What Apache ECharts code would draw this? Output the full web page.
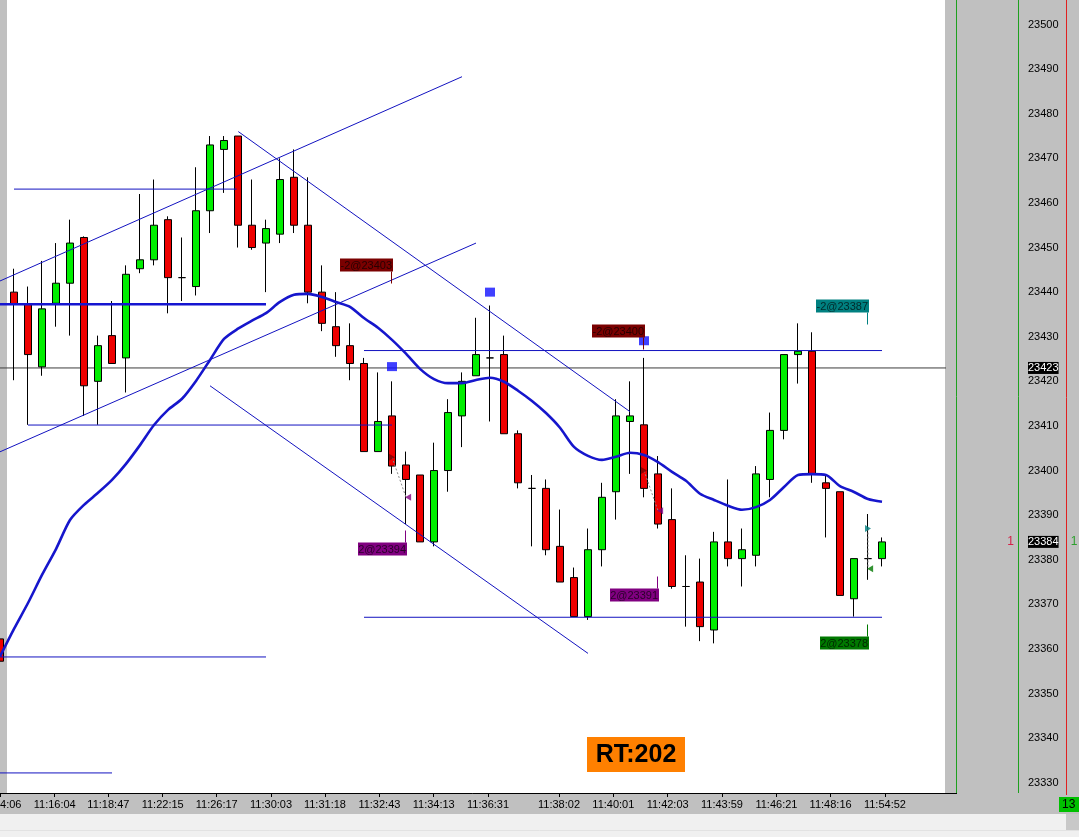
<!DOCTYPE html>
<html><head><meta charset="utf-8">
<script src="https://cdn.jsdelivr.net/npm/echarts@6/dist/echarts.min.js"></script>
<style>html,body{margin:0;padding:0;background:#c0c0c0;overflow:hidden}#c{width:1079px;height:837px}</style>
</head><body><div id="c"></div>
<script>
// ---- data ----
const opens  = [23362.25,23440.0,23437.25,23423.25,23437.5,23442.0,23452.25,23420.0,23430.25,23425.25,23445.25,23447.25,23456.25,23443.25,23441.25,23458.25,23472.0,23475.0,23455.0,23451.0,23453.0,23465.75,23455.0,23440.0,23432.25,23428.0,23424.0,23404.25,23412.25,23401.25,23399.0,23384.0,23400.0,23412.25,23421.25,23425.25,23426.0,23408.25,23396.0,23396.0,23383.0,23376.0,23367.25,23382.25,23395.25,23411.0,23410.25,23399.25,23389.0,23374.0,23375.0,23364.25,23384.0,23380.25,23381.0,23398.0,23409.0,23426.0,23426.75,23397.25,23395.25,23371.25,23380.25,23380.25];
const closes = [23357.25,23437.25,23426.0,23436.25,23442.0,23451.0,23419.0,23428.0,23424.0,23444.0,23447.25,23455.0,23443.25,23443.25,23458.25,23473.0,23474.0,23455.0,23450.0,23454.25,23465.25,23455.0,23440.0,23433.0,23428.0,23424.0,23404.25,23411.0,23401.0,23398.0,23384.0,23400.0,23413.0,23420.0,23426.0,23425.25,23408.25,23397.25,23396.0,23382.25,23375.0,23367.25,23382.25,23394.0,23412.25,23412.25,23396.0,23388.0,23374.0,23374.0,23365.0,23384.0,23380.25,23382.25,23399.25,23409.0,23426.0,23426.75,23399.25,23396.0,23372.0,23380.25,23380.25,23384.0];
const lows   = [23350.25,23420.25,23410.25,23421.25,23432.25,23430.25,23412.25,23410.25,23424.0,23417.5,23444.25,23446.0,23435.25,23438.0,23439.25,23453.25,23462.25,23450.0,23449.5,23440.0,23451.0,23453.25,23437.5,23431.25,23425.5,23420.25,23404.25,23404.25,23399.25,23388.0,23384.0,23383.0,23395.25,23405.25,23421.25,23411.0,23408.25,23396.0,23383.0,23381.0,23375.0,23367.25,23366.5,23378.5,23389.0,23399.25,23394.0,23387.0,23373.5,23365.0,23361.75,23361.25,23378.5,23374.0,23378.5,23394.0,23407.0,23419.5,23397.25,23385.0,23372.0,23367.25,23375.5,23378.5];
const highs  = [23370.25,23445.25,23441.25,23447.0,23451.0,23456.25,23452.5,23430.25,23438.0,23446.0,23462.0,23465.25,23457.0,23452.25,23468.0,23475.0,23475.0,23475.0,23465.25,23456.25,23470.0,23472.0,23465.75,23446.0,23440.0,23433.0,23425.25,23422.0,23420.0,23404.25,23399.0,23406.25,23416.0,23422.0,23434.25,23437.0,23430.25,23409.0,23399.0,23398.0,23391.25,23378.25,23387.0,23397.25,23416.0,23420.0,23425.25,23403.25,23396.0,23381.0,23380.25,23386.25,23398.0,23387.0,23401.0,23413.0,23426.0,23433.0,23431.0,23399.0,23395.25,23380.25,23390.25,23385.0];
const maValues = [23358.3,23364.5,23370.3,23376.6,23382.4,23388.9,23392.3,23395.0,23397.9,23401.5,23405.7,23410.2,23413.6,23416.1,23420.1,23424.8,23429.5,23431.8,23433.6,23435.3,23437.8,23439.4,23439.6,23438.9,23437.8,23436.7,23434.2,23432.0,23429.3,23426.2,23422.8,23420.5,23419.6,23419.6,23420.3,23420.8,23419.9,23417.9,23415.6,23412.9,23409.6,23405.3,23403.3,23402.4,23403.1,23404.0,23403.5,23401.9,23399.7,23397.7,23394.8,23393.4,23392.1,23391.2,23391.8,23393.4,23396.3,23399.0,23399.2,23399.0,23396.5,23395.2,23393.6,23393.0];
const barSlots = Array.from({length: 68}, (_, i) => String(i)); // 64 bars + right margin slots

const timeLabels   = ['11:14:06','11:16:04','11:18:47','11:22:15','11:26:17','11:30:03','11:31:18','11:32:43','11:34:13','11:36:31','11:38:02','11:40:01','11:42:03','11:43:59','11:46:21','11:48:16','11:54:52'];
const timeLabelBars = [0.03,3.91,7.74,11.62,15.48,19.36,23.21,27.10,30.98,34.86,39.93,43.81,47.69,51.57,55.46,59.33,63.21];
const priceTicks = [23330,23340,23350,23360,23370,23380,23390,23400,23410,23420,23430,23440,23450,23460,23470,23480,23490,23500];
const priceLineValue = 23423;
const lastPrice = closes[closes.length - 1];

// drawings in (bar, price)
const trendLines = [[0,23442.5,33,23488.3],[0,23404.2,34,23451.0],[17.02,23476.0,45,23413.2],[15,23419.0,42,23359.0]];
const levelLines = [[1,16.9,23463.1],[2,28,23410.2],[26,63,23426.9],[26,63,23367.1],[0,19,23358.2],[0,8,23332.2]];
const thickLevel = [0,19,23437.3];
const markerBars = [28,35,46];
const markerPrices = [23423.3,23440.0,23429.1];
const entryBars = [28,46,62], entryPrices = [23403,23400,23387];
const exitBars  = [29,47,62], exitPrices  = [23394,23391,23378];
const execTexts  = ['-2@23403','-2@23400','2@23394','2@23391','-2@23387','2@23378'];
const execBars   = [28.07,46.07,29.07,47.05,62.07,62.07];
const execPrices = [23446.0,23431.2,23382.35,23372.2,23437.0,23361.3];
const execStubDir = [1,1,-1,-1,1,-1];
const execColors = ['#7a0000','#7a0000','#800080','#800080','#008080','#007800'];
const entryColors = ['#7a0000','#7a0000','#008080'];
const exitColors = ['#800080','#800080','#007800'];

const FONT = '"Liberation Sans", Arial, sans-serif';
const chart = echarts.init(document.getElementById('c'), null, {renderer: 'canvas'});

const series = [];
series.push({
  type: 'candlestick', xAxisIndex: 0, yAxisIndex: 0, barWidth: 8, z: 3,
  data: opens.map((o, i) => [o, closes[i], lows[i], highs[i]]),
  itemStyle: {color: '#00ee00', color0: '#ee0000', borderColor: '#000', borderColor0: '#000', borderColorDoji: '#000', borderWidth: 1},
  emphasis: {disabled: true}, silent: true
});
const lineBase = {type: 'line', xAxisIndex: 1, yAxisIndex: 0, symbol: 'none', silent: true, animation: false};
trendLines.forEach(t => series.push(Object.assign({}, lineBase, {z: 4, data: [[t[0], t[1]], [t[2], t[3]]], lineStyle: {color: '#1212c0', width: 1}})));
levelLines.forEach(t => series.push(Object.assign({}, lineBase, {z: 4, data: [[t[0], t[2]], [t[1], t[2]]], lineStyle: {color: '#1212c0', width: 1}})));
series.push(Object.assign({}, lineBase, {z: 4, data: [[thickLevel[0], thickLevel[2]], [thickLevel[1], thickLevel[2]]], lineStyle: {color: '#1515d0', width: 2.6}}));
series.push(Object.assign({}, lineBase, {z: 2, clip: false, data: [[-0.5, priceLineValue], [68.3, priceLineValue]], lineStyle: {color: '#3c3c3c', width: 1}}));
series.push(Object.assign({}, lineBase, {z: 5, smooth: 0.25, data: maValues.map((v, i) => [i, v]), lineStyle: {color: '#1616cc', width: 2.6}}));
entryBars.forEach((b, i) => series.push(Object.assign({}, lineBase, {z: 5, data: [[b, entryPrices[i]], [exitBars[i], exitPrices[i]]], lineStyle: {color: '#8a8a8a', width: 1, type: [2, 2]}})));
series.push({type: 'scatter', xAxisIndex: 1, yAxisIndex: 0, z: 6, silent: true, symbol: 'triangle', symbolRotate: -90, symbolSize: [7, 6],
  data: entryBars.map((b, i) => ({value: [b, entryPrices[i]], itemStyle: {color: entryColors[i]}}))});
series.push({type: 'scatter', xAxisIndex: 1, yAxisIndex: 0, z: 6, silent: true, symbol: 'triangle', symbolRotate: 90, symbolSize: [7, 6],
  data: exitBars.map((b, i) => ({value: [b + 0.15, exitPrices[i]], itemStyle: {color: exitColors[i]}}))});
series.push({type: 'scatter', xAxisIndex: 1, yAxisIndex: 0, z: 7, silent: true, symbol: 'rect', symbolSize: [10, 9],
  itemStyle: {color: '#1010ff'}, data: markerBars.map((b, i) => [b, markerPrices[i]])});
series.push({
  type: 'custom', xAxisIndex: 1, yAxisIndex: 0, z: 8, silent: true, clip: false,
  data: execBars.map((b, i) => [b, execPrices[i], execStubDir[i]]),
  renderItem: (params, api) => {
    const i = params.dataIndex;
    const p = api.coord([api.value(0), api.value(1)]);
    const dir = api.value(2);
    const x = Math.round(p[0]), y = Math.round(p[1]);
    return {type: 'group', children: [
      {type: 'rect', shape: {x: x - 53 + (execTexts[i].length === 7 ? 4 : 0), y: y - 6.5, width: 53 - (execTexts[i].length === 7 ? 4 : 0), height: 13}, style: {fill: execColors[i]}},
      {type: 'text', x: x - 1, y: y + 0.5, style: {text: execTexts[i], fill: 'rgba(0,0,0,0.68)', font: '11px ' + FONT, align: 'right', verticalAlign: 'middle'}},
      {type: 'line', shape: {x1: x - 1.5, y1: y + dir * 6.5, x2: x - 1.5, y2: y + dir * 18.5}, style: {stroke: execColors[i], lineWidth: 1}}
    ]};
  }
});

chart.setOption({
  animation: false,
  backgroundColor: '#c0c0c0',
  grid: {left: -7, right: 134, top: 0, bottom: 44, show: true, backgroundColor: '#ffffff', borderWidth: 0, outerBoundsMode: 'none', containLabel: false},
  xAxis: [
    {type: 'category', data: barSlots, position: 'bottom', boundaryGap: true,
     axisLine: {show: true, onZero: false, lineStyle: {color: '#000', width: 1}}, axisTick: {show: false}, axisLabel: {show: false}, splitLine: {show: false}},
    {type: 'value', min: -0.5, max: 67.5, position: 'bottom',
     axisLine: {show: false, onZero: false}, splitLine: {show: false},
     axisTick: {show: true, customValues: timeLabelBars, length: 4, lineStyle: {color: '#000'}},
     axisLabel: {show: true, customValues: timeLabelBars, margin: 6, color: '#000', fontSize: 11, fontFamily: FONT, hideOverlap: false,
       formatter: v => { let bi = 0, bd = 1e9; timeLabelBars.forEach((b, i) => { const d = Math.abs(b - v); if (d < bd) { bd = d; bi = i; } }); return timeLabels[bi]; }}}
  ],
  yAxis: [{
    type: 'value', position: 'right', min: 23327.7, max: 23505.5,
    axisLine: {show: false}, axisTick: {show: false}, splitLine: {show: false},
    axisLabel: {show: true, customValues: priceTicks.concat([priceLineValue, lastPrice]), margin: 83, align: 'left', hideOverlap: false,
      color: '#000', fontSize: 11, fontFamily: FONT,
      formatter: v => (v === priceLineValue || v === lastPrice) ? '{hl|' + v + '}' : '{n|' + v + '}',
      rich: {
        n: {color: '#000', fontSize: 11, fontFamily: FONT},
        hl: {color: '#fff', backgroundColor: '#000', fontSize: 11, fontFamily: FONT, padding: [1, 0, 0, 0], lineHeight: 12}
      }}
  }],
  series: series
});

const yLast = chart.convertToPixel({yAxisIndex: 0}, lastPrice);
chart.setOption({
  graphic: {elements: [
    {type: 'rect', z: 1, silent: true, shape: {x: 0, y: 0, width: 7, height: 793}, style: {fill: '#c0c0c0'}},
    {type: 'line', z: 1, silent: true, shape: {x1: 945, y1: 793.5, x2: 957, y2: 793.5}, style: {stroke: '#000', lineWidth: 1}},
    {type: 'line', z: 1, silent: true, shape: {x1: 956.5, y1: 0, x2: 956.5, y2: 793}, style: {stroke: '#1ea01e', lineWidth: 1}},
    {type: 'line', z: 1, silent: true, shape: {x1: 1018.5, y1: 0, x2: 1018.5, y2: 793}, style: {stroke: '#1ea01e', lineWidth: 1}},
    {type: 'line', z: 1, silent: true, shape: {x1: 1066.5, y1: 0, x2: 1066.5, y2: 795}, style: {stroke: '#e02020', lineWidth: 1}},
    {type: 'rect', z: 1, silent: true, shape: {x: 0, y: 814, width: 1079, height: 23}, style: {fill: '#f0f0f0'}},
    {type: 'line', z: 1, silent: true, shape: {x1: 0, y1: 830.5, x2: 1079, y2: 830.5}, style: {stroke: '#e2e2e2', lineWidth: 1}},
    {type: 'rect', z: 1, silent: true, shape: {x: 1066, y: 814, width: 13, height: 16}, style: {fill: '#c8c8c8'}},
    {type: 'rect', z: 2, silent: true, shape: {x: 1059, y: 797, width: 20, height: 15}, style: {fill: '#00c000'}},
    {type: 'text', z: 3, silent: true, x: 1062, y: 805, style: {text: '13', fill: '#000', font: '12px ' + FONT, verticalAlign: 'middle'}},
    {type: 'text', z: 3, silent: true, x: 1010.5, y: yLast, style: {text: '1', fill: '#d42048', font: '12px ' + FONT, align: 'center', verticalAlign: 'middle'}},
    {type: 'text', z: 3, silent: true, x: 1074, y: yLast, style: {text: '1', fill: '#2ea02e', font: '12px ' + FONT, align: 'center', verticalAlign: 'middle'}},
    {type: 'rect', z: 20, silent: true, shape: {x: 587, y: 737, width: 98, height: 35}, style: {fill: '#ff8000'}},
    {type: 'text', z: 21, silent: true, x: 636, y: 755, style: {text: 'RT:202', fill: '#000', font: 'bold 25px ' + FONT, align: 'center', verticalAlign: 'middle'}}
  ]}
});
</script>
</body></html>
